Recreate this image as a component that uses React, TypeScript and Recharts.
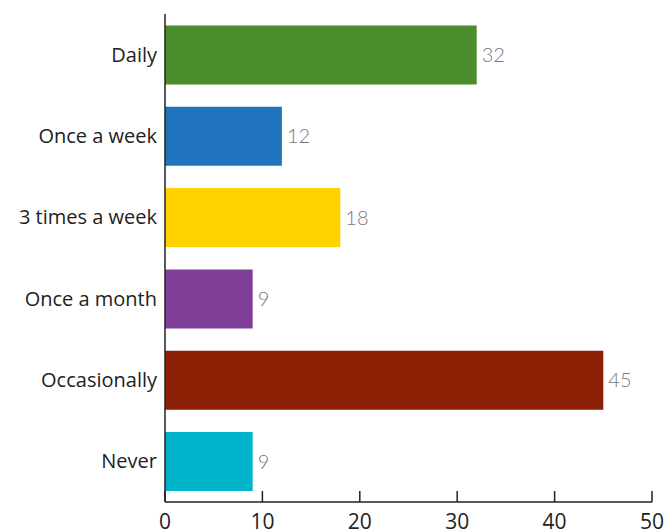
import React from "react";
import { BarChart, Bar, XAxis, YAxis, Cell, LabelList } from "recharts";

const categories = ["Daily", "Once a week", "3 times a week", "Once a month", "Occasionally", "Never"];
const values = [32, 12, 18, 9, 45, 9];
const colors = ["#4b8c2b", "#1f74bd", "#ffd200", "#7f3f98", "#8a1f04", "#00b4cc"];
const xTicks = [0, 10, 20, 30, 40, 50];

const data = categories.map((c, i) => ({ name: c, value: values[i] }));

const XTick = (props: any) => {
  const { x, y, payload } = props;
  return (
    <g>
      <line x1={x} x2={x} y1={y} y2={y - 11} stroke="#222" strokeWidth={1.5} />
      <text x={x} y={y + 27} textAnchor="middle" fill="#222" fontSize={21} fontFamily="'Open Sans', 'Noto Sans', sans-serif">
        {payload.value}
      </text>
    </g>
  );
};

export default function App() {
  return (
    <div style={{ position: "absolute", left: 0, top: 0, background: "#fff" }}>
      <BarChart
        width={664}
        height={531}
        data={data}
        layout="vertical"
        margin={{ top: 14, right: 12, bottom: 0, left: 0 }}
        barCategoryGap="14%"
      >
        <XAxis
          type="number"
          domain={[0, 50]}
          ticks={xTicks}
          height={29}
          axisLine={{ stroke: "#222", strokeWidth: 1.5 }}
          tickLine={false}
          tickSize={0}
          tickMargin={0}
          tick={<XTick />}
          interval={0}
        />
        <YAxis
          type="category"
          dataKey="name"
          width={165}
          axisLine={{ stroke: "#222", strokeWidth: 1.5 }}
          tickLine={false}
          tickMargin={8}
          tickSize={0}
          tick={{ fill: "#222", fontSize: 20, fontFamily: "'Open Sans', 'Noto Sans', sans-serif" }}
          interval={0}
        />
        <Bar dataKey="value" isAnimationActive={false}>
          {data.map((d, i) => (
            <Cell key={d.name} fill={colors[i]} />
          ))}
          <LabelList
            dataKey="value"
            position="right"
            offset={5}
            fill="#777"
            fontSize={20}
            fontWeight={300}
            fontFamily="Lato, 'Open Sans', sans-serif"
          />
        </Bar>
      </BarChart>
    </div>
  );
}
